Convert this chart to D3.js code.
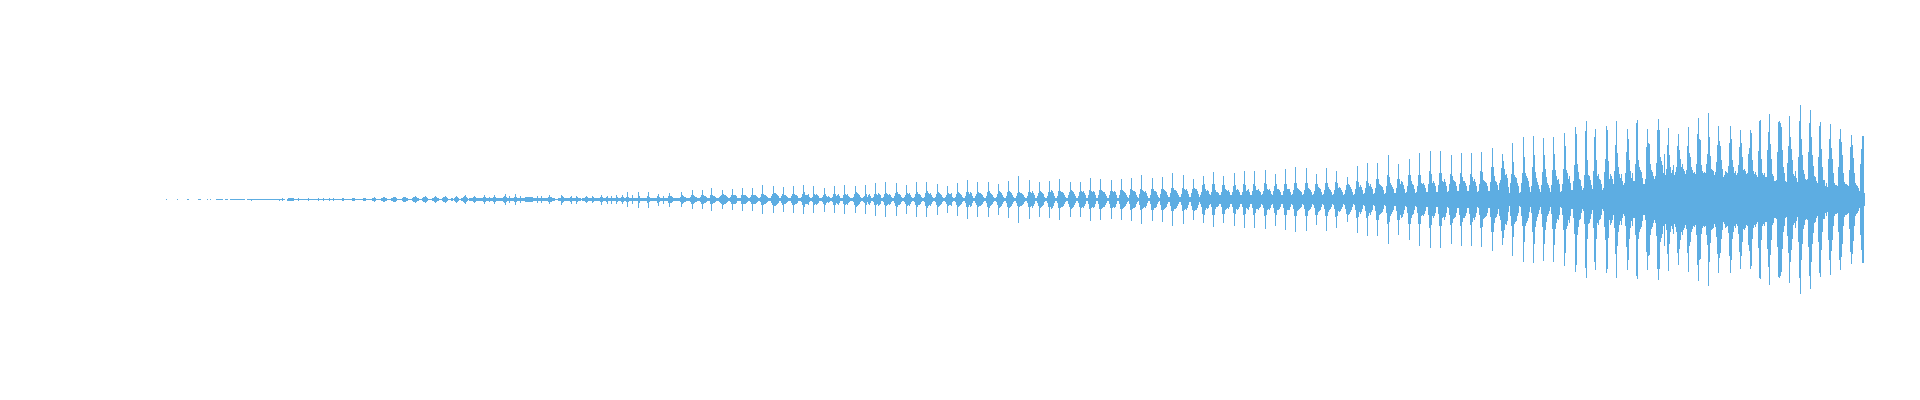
<!DOCTYPE html>
<html><head><meta charset="utf-8">
<script src="https://cdn.jsdelivr.net/npm/d3@7"></script>
<style>html,body{margin:0;padding:0;background:#fff;overflow:hidden}svg{display:block}</style>
</head><body><svg id="c" width="1920" height="400"></svg>
<script>
// peak-to-peak amplitude of each sample column
const waveA=[
1,0,0,0,0,0,0,0,0,0, 0,1,0,0,0,0,0,0,0,0, 0,1,1,0,0,0,0,0,0,0, 0,0,1,1,1,0,0,0,0,0,
0,1,0,0,1,0,0,0,0,0, 1,1,1,1,1,1,1,0,0,1, 1,1,0,0,1,1,1,1,1,1, 1,1,1,1,1,1,1,1,1,0,
0,1,1,1,1,2,1,1,1,1, 1,1,1,1,1,1,1,1,1,1, 1,1,1,1,1,1,1,1,1,1, 1,1,1,2,1,1,3,1,1,0,
0,2,3,3,3,3,3,3,1,1, 1,1,3,1,1,1,1,1,1,1, 1,1,3,1,1,1,1,1,1,1, 1,1,3,1,1,1,1,3,1,1,
1,1,1,3,1,1,1,3,1,1, 1,1,1,1,1,1,3,3,1,1, 1,1,1,1,1,1,3,3,3,1, 1,1,1,1,1,1,1,3,3,3,
1,1,1,1,1,1,3,3,5,3, 1,1,1,1,1,3,3,5,5,3, 3,1,1,1,1,3,3,5,5,5, 3,1,1,1,1,1,3,5,5,5,
3,3,1,1,1,1,3,5,5,7, 5,3,3,1,1,1,3,5,5,7, 5,3,1,1,1,1,3,3,5,7, 5,3,3,1,1,1,3,5,5,7,
5,3,1,1,1,3,3,1,3,5, 7,5,3,1,1,3,3,5,7,9, 5,3,1,3,3,3,3,5,7,5, 3,3,3,3,3,3,3,5,9,5,
3,3,3,5,3,3,3,5,9,5, 3,3,3,3];
const waveB=[
3,3,3,5,7,11,5,3,3,7, 3,3,3,3,5,11,5,3,3,3, 7,3,3,3,3,5,5,5,5,5, 5,5,5,3,3,3,3,7,3,3,
3,7,3,3,3,3,3,3,5,9, 5,5,3,3,3,1,1,1,3,3, 3,10,7,5,3,3,3,3,3,3, 5,8,3,3,3,3,8,5,3,3,
3,1,3,3,3,5,7,5,3,3, 3,3,7,5,3,3,3,3,3,3, 5,10,5,3,3,3,5,8,3,3, 3,8,3,3,3,3,9,5,3,3,
3,5,9,5,3,3,5,15,5,3, 3,3,9,3,3,3,3,3,16,7, 3,3,3,3,3,3,3,7,16,5, 3,3,3,3,3,3,3,7,12,5,
3,3,3,8,3,3,3,3,7,14, 7,7,5,3,3,3,3,3,3,3, 5,15,9,7,5,5,3,3,3,3, 5,9,19,9,7,5,5,3,3,3,
5,9,19,9,7,7,5,3,3,3, 9,23,9,7,7,5,3,3,3,5, 7,9,19,11,9,9,7,5,3,3, 5,9,21,9,9,9,7,3,3,3,
3,9,23,9,9,9,7,5,3,3, 5,9,23,9,9,9,7,5,3,3, 5,11,29,11,9,9,7,5,3,3, 3,7,11,27,13,13,11,9,7,3,
3,7,11,25,9,9,7,5,3,3, 3,7,11,27,11,9,9,7,3,3];
const waveC=[
3,5,11,29,15,9,9,9,11,5, 3,3,5,27,11,9,11,9,7,3,3, 3,5,9,24,11,7,5,7,5,3, 3,5,11,27,11,7,9,11,7,3,
3,3,9,29,11,9,11,7,5,3,3, 3,5,11,27,15,13,11,9,5,3, 3,5,7,29,11,5,9,11,7,3, 3,5,11,33,11,9,13,11,9,3,
3,5,11,35,13,11,9,11,9,5,3, 3,7,13,33,15,11,11,9,5,3, 3,5,9,29,13,11,13,9,5,3, 3,5,11,35,15,11,11,9,5,3,
3,5,13,35,17,13,11,13,9,5,3, 3,5,11,31,15,13,11,9,5,3, 3,5,9,27,13,11,11,13,5,3, 3,5,11,33,15,13,11,9,5,3,
3,7,15,39,15,11,15,13,7,3, 3,7,11,35,15,13,13,11,9,5,3, 3,7,15,35,17,13,11,9,5,3, 3,5,11,31,17,15,13,9,5,3,
3,7,15,37,17,15,13,9,5,3, 3,7,13,47,15,13,13,11,9,5,3, 3,7,15,39,15,13,17,13,9,3, 3,7,13,35,17,15,13,11,5,3,
3,7,15,37,15,19,17,13,7,3, 3,7,17,41,17,15,15,13,9,5,3, 3,9,15,35,19,17,15,11,7,3, 3,7,15,35,17,15,17,13,9,3,
3,9,19,43,17,15,17,15,9,3, 3,9,19,41,19,17,15,15,11,7,3, 3,9,17,39,17,15,17,15,9,3, 3,9,19,41,19,17,15,13,9,5,
3,9,21,43,19,17,17,15,9,5, 3,11,21,49,19,17,15,17,13,7,3, 3,9,21,43,21,17,17,15,9,5, 3,11,21,45,21,19,17,15,9,5,
5,13,23,53,23,19,19,17,13,9,5, 5,11,23,49,21,19,21,17,11,5, 5,13,21,41,23,21,21,17,11,5];
const waveD=[
9,15,29,47,31,21,17,19,17,11, 9,15,31,55,31,19,15,15,13,9, 9,15,29,47,29,21,19,17,19,15,9, 9,15,27,53,29,19,21,19,15,9,
9,15,31,57,29,17,19,21,15,9, 9,17,31,57,27,19,19,21,17,15,9, 11,17,33,59,31,21,19,21,17,11, 9,17,27,52,31,21,21,19,15,9,
9,17,31,61,31,21,21,21,15,9, 11,19,33,65,33,23,21,19,17,15,9, 11,19,33,63,33,23,21,19,15,9, 11,17,31,51,31,25,23,21,15,9,
11,19,33,63,33,25,21,19,15,9, 11,19,35,57,33,23,25,23,19,15,9, 11,19,29,45,31,29,25,21,15,9, 11,21,37,67,35,25,29,25,19,11,
13,23,37,73,33,27,31,25,21,11, 13,23,41,73,41,31,29,27,25,19,11, 13,27,49,89,45,33,29,25,21,13, 13,23,41,71,41,31,37,35,29,21,13,
15,27,49,81,49,37,31,29,21,13, 15,27,49,93,49,33,31,33,29,23,15, 15,31,57,97,51,33,37,33,27,15, 15,29,53,97,53,37,35,41,35,27,15,
17,31,51,89,47,39,37,35,27,17, 17,31,53,93,45,37,37,33,27,17, 17,29,51,93,45,37,41,35,27,15, 17,31,57,95,55,39,37,35,33,27,17,
17,35,65,103,65,47,37,35,29,19];
const waveE=[
33,40,63,91,77,61,49,51,43,25, 13,33,52,113,75,49,45,43,33,27,13, 15,33,53,125,85,53,47,43,37,25, 15,27,65,127,89,55,43,35,29,21,
15,29,55,123,89,61,45,33,29,23, 15,29,59,125,91,59,47,39,41,31,15, 17,31,61,133,107,59,53,41,47,33,19, 19,37,69,145,131,71,55,41,39,27,19,
23,49,137,157,79,49,47,39,29, 21,57,125,141,79,47,51,41,39,31,19, 23,55,81,147,139,77,41,51,47,41, 31,57,109,157,93,65,51,43,51,37,29,
33,53,95,141,121,79,57,43,53,37, 37,71,153,159,79,65,59,55,43,31, 31,41,105,141,113,111,71,59,55,47,41, 47,73,139,161,139,85,77,69,53,92,
49,61,109,143,89,65,53,59,69,49, 55,65,107,131,99,81,65,71,61,57, 51,59,107,145,93,85,65,59,53,55, 51,71,131,163,121,119,69,57,53,55,
53,71,91,173,125,87,61,59,57,49, 55,75,109,147,117,107,79,61,45,49,57,55, 53,67,113,147,121,79,65,53,57,49, 53,69,105,139,113,85,59,61,57,51,
53,91,103,139,133,79,57,51,55,49, 45,97,157,159,81,53,49,53,45, 45,99,135,171,111,81,51,47,37,37, 39,95,155,157,153,145,99,65,53,37,
35,73,107,167,125,101,79,51,47,57,43, 35,85,157,189,121,89,59,51,41,39, 41,95,153,179,125,89,67,47,45,37, 33,85,147,155,101,65,39,39,27,33,
25,81,121,151,103,81,53,33,29,29, 27,65,121,141,115,89,53,35,31,31,29, 27,59,105,129,109,83,53,33,29,27,23, 17,71,101,127,127,13];

const waveColor="#5DADE2";
const values=[].concat(waveA,waveB,waveC,waveD,waveE);
const x=d3.scaleLinear().domain([0,values.length]).range([166,166+values.length]);
const y=d3.scaleLinear().domain([-100,100]).range([299.5,99.5]);
d3.select("#c").append("g").attr("shape-rendering","crispEdges")
 .selectAll("rect").data(values.map((v,i)=>({v,i})).filter(d=>d.v>0)).join("rect")
 .attr("x",d=>x(d.i)).attr("width",d=>x(d.i+1)-x(d.i))
 .attr("y",d=>y(d.v/2)).attr("height",d=>y(-d.v/2)-y(d.v/2))
 .attr("fill",waveColor);
</script></body></html>
